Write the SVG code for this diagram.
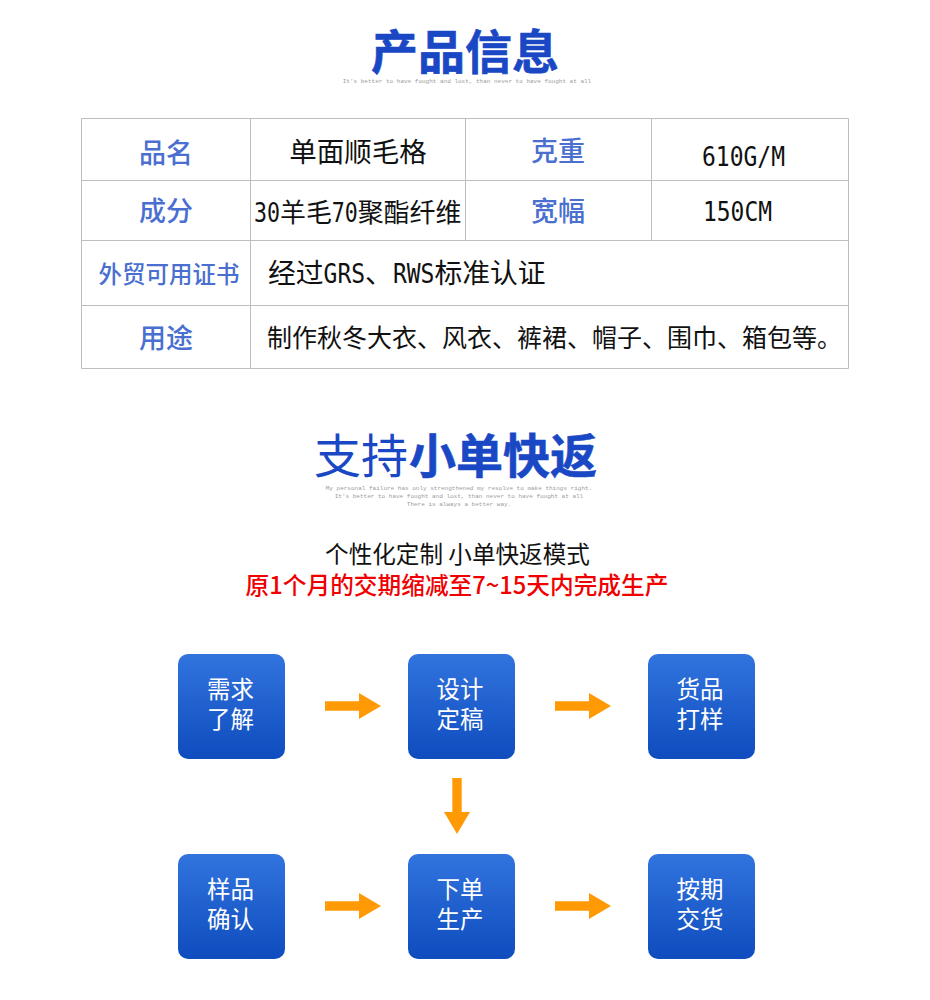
<svg xmlns="http://www.w3.org/2000/svg" width="930" height="1000" viewBox="0 0 930 1000">
<style>
text{font-family:"Noto Sans CJK SC","Noto Sans",sans-serif;text-anchor:middle}
.h{fill:#1a48c4;font-weight:700}
.small{font-family:"Liberation Mono",monospace;fill:#9c9c9c;font-size:6px}
.lab{fill:#4a6fd0;font-weight:500}
.val{fill:#111}
.mono{font-family:"DejaVu Sans Mono","Noto Sans CJK SC",monospace}
.grid{fill:none;stroke:#bdbdbd;stroke-width:1}
.box{fill:url(#g)}
.bt{fill:#fff;font-size:23.500px}
.arrow{fill:#ff9a05}
</style>
<defs>
<linearGradient id="g" x1="0" y1="0" x2="0" y2="1"><stop offset="0" stop-color="#3174de"/><stop offset="1" stop-color="#0f4cbe"/></linearGradient>
<path id="ar" d="M0 -4.700H34V-13L56 0L34 13V4.700H0Z"/>
</defs>
<rect width="930" height="1000" fill="#fff"/>
<g id="title1">
<text class="h" x="465" y="68.500" font-size="47" stroke="#1a48c4" stroke-width="0.600">产品信息</text>
<text class="small" x="467" y="83">It's better to have fought and lost, than never to have fought at all</text>
</g>
<g id="table">
<path class="grid" d="M81.500 118.500H848.500V368.500H81.500ZM81.500 180.500H848.500M81.500 240.500H848.500M81.500 305.500H848.500M250.500 118.500V368.500M465.500 118.500V240.500M651.500 118.500V240.500"/>
<text class="lab" x="166" y="163" font-size="27">品名</text>
<text class="val" x="358" y="162" font-size="27.500">单面顺毛格</text>
<text class="lab" x="558" y="161" font-size="27">克重</text>
<text class="val mono" x="702" y="165.500" font-size="26" textLength="83" lengthAdjust="spacingAndGlyphs" style="text-anchor:start">610G/M</text>
<text class="lab" x="166" y="221" font-size="27">成分</text>
<text class="val" x="254" y="222" font-size="25.900" style="text-anchor:start"><tspan class="mono" textLength="26" lengthAdjust="spacingAndGlyphs">30</tspan>羊毛<tspan class="mono" textLength="26" lengthAdjust="spacingAndGlyphs">70</tspan>聚酯纤维</text>
<text class="lab" x="558" y="221" font-size="27">宽幅</text>
<text class="val mono" x="703" y="220.500" font-size="26" textLength="69" lengthAdjust="spacingAndGlyphs" style="text-anchor:start">150CM</text>
<text class="lab" x="169" y="283" font-size="23.500">外贸可用证书</text>
<text class="val" x="268" y="283" font-size="27.800" style="text-anchor:start">经过<tspan class="mono" font-size="26" textLength="41.500" lengthAdjust="spacingAndGlyphs">GRS</tspan>、<tspan class="mono" font-size="26" textLength="41.500" lengthAdjust="spacingAndGlyphs">RWS</tspan>标准认证</text>
<text class="lab" x="166" y="348" font-size="27">用途</text>
<text class="val" x="267" y="347" font-size="25" style="text-anchor:start">制作秋冬大衣、风衣、裤裙、帽子、围巾、箱包等。</text>
</g>
<g id="title2">
<text x="361" y="473" font-size="47" fill="#1a48c4">支持</text>
<text class="h" x="503" y="473" font-size="47" stroke="#1a48c4" stroke-width="0.600">小单快返</text>
<text class="small" x="459" y="490">My personal failure has only strengthened my resolve to make things right.</text>
<text class="small" x="459" y="498">It's better to have fought and lost, than never to have fought at all</text>
<text class="small" x="459" y="506">There is always a better way.</text>
</g>
<g id="subtitle">
<text x="457.500" y="563" font-size="23.600" fill="#111">个性化定制 小单快返模式</text>
<text x="457" y="594" font-size="23.700" fill="#f00000" font-weight="500">原1个月的交期缩减至7~15天内完成生产</text>
</g>
<g id="n1"><rect class="box" x="178" y="654" width="107" height="105" rx="10"/><text class="bt" x="230.500" y="698">需求</text><text class="bt" x="230.500" y="728">了解</text></g>
<g id="n2"><rect class="box" x="408" y="654" width="107" height="105" rx="10"/><text class="bt" x="460" y="698">设计</text><text class="bt" x="460" y="728">定稿</text></g>
<g id="n3"><rect class="box" x="648" y="654" width="107" height="105" rx="10"/><text class="bt" x="700" y="698">货品</text><text class="bt" x="700" y="728">打样</text></g>
<g id="n4"><rect class="box" x="178" y="854" width="107" height="105" rx="10"/><text class="bt" x="230.500" y="898">样品</text><text class="bt" x="230.500" y="928">确认</text></g>
<g id="n5"><rect class="box" x="408" y="854" width="107" height="105" rx="10"/><text class="bt" x="460" y="898">下单</text><text class="bt" x="460" y="928">生产</text></g>
<g id="n6"><rect class="box" x="648" y="854" width="107" height="105" rx="10"/><text class="bt" x="700" y="898">按期</text><text class="bt" x="700" y="928">交货</text></g>
<g id="connectors" class="arrow">
<use href="#ar" transform="translate(325 706)"/>
<use href="#ar" transform="translate(555 706)"/>
<use href="#ar" transform="translate(457 778) rotate(90)"/>
<use href="#ar" transform="translate(325 906)"/>
<use href="#ar" transform="translate(555 906)"/>
</g>
</svg>
